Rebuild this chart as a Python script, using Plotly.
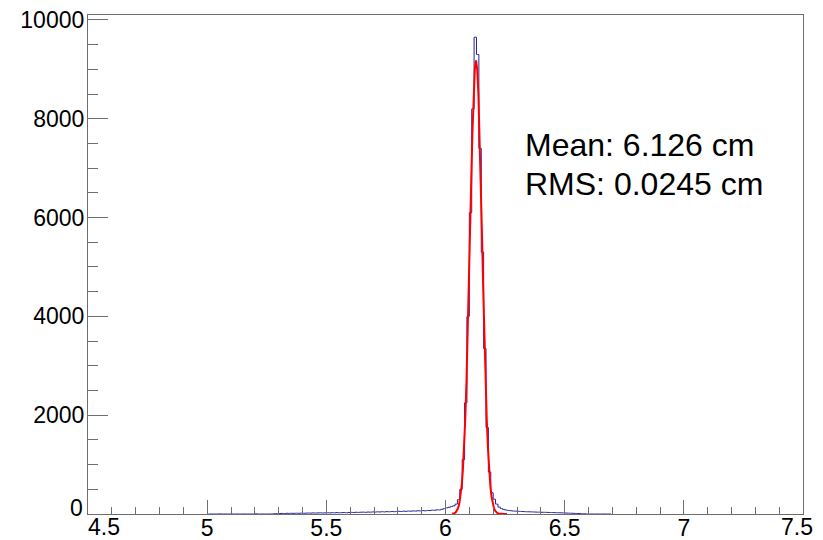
import plotly.graph_objects as go

# ---- data ----
bin_width = 0.01
bin_start = 5.005  # centre of first bin
hist_counts = [
    # 5.00 - 5.29
    0, 0, 0, 0, 0, 2, 0, 0, 0, 0,
    0, 0, 0, 0, 0, 0, 0, 0, 0, 0,
    3, 0, 0, 0, 0, 0, 0, 2, 5, 8,
    # 5.30 - 5.59
    10, 12, 9, 14, 12, 15, 13, 16, 14, 18,
    15, 17, 20, 18, 22, 19, 21, 24, 20, 23,
    25, 22, 26, 24, 28, 25, 27, 30, 26, 31,
    # 5.60 - 5.89
    33, 30, 35, 32, 36, 38, 34, 40, 37, 42,
    39, 44, 41, 46, 43, 48, 45, 50, 47, 52,
    55, 50, 58, 54, 60, 57, 63, 59, 66, 62,
    # 5.90 - 5.99
    68, 65, 72, 70, 78, 75, 85, 82, 95, 108,
    # 6.00 - 6.09
    125, 135, 150, 165, 200, 290, 500, 1100, 2250, 4000,
    # 6.10 - 6.19
    6100, 8200, 9650, 9300, 7400, 5300, 3350, 1750, 850, 430,
    # 6.20 - 6.29
    300, 200, 140, 110, 90, 80, 72, 66, 60, 58,
    # 6.30 - 6.39
    55, 52, 50, 47, 45, 44, 42, 40, 38, 37,
    # 6.40 - 6.49
    35, 34, 33, 31, 30, 28, 27, 25, 24, 22,
    # 6.50 - 6.59
    20, 18, 16, 14, 12, 10, 8, 5, 3, 0,
    # 6.60 - 6.69
    0, 0, 0, 0, 0, 0, 0, 0, 0, 0,
]
hist_x = [round(bin_start + i * bin_width, 3) for i in range(len(hist_counts))]

fit_x = [
    6.028, 6.033, 6.038, 6.043, 6.048, 6.053, 6.058, 6.063, 6.068, 6.073,
    6.078, 6.083, 6.088, 6.093, 6.098, 6.103, 6.108, 6.113, 6.118, 6.123,
    6.128, 6.133, 6.138, 6.143, 6.148, 6.153, 6.158, 6.163, 6.168, 6.173,
    6.178, 6.183, 6.188, 6.193, 6.198, 6.203, 6.208, 6.213, 6.218, 6.223,
    6.228, 6.233, 6.238, 6.243, 6.248, 6.253, 6.258,
]
fit_y = [
    4, 9, 18, 36, 67, 121, 212, 356, 577, 897,
    1343, 1934, 2683, 3579, 4596, 5677, 6749, 7721, 8500, 9006,
    9180, 9006, 8500, 7721, 6749, 5677, 4596, 3579, 2683, 1934,
    1343, 897, 577, 356, 212, 121, 67, 36, 18, 9,
    4, 2, 1, 0, 0, 0, 0,
]

x_ticks = [4.5, 5, 5.5, 6, 6.5, 7, 7.5]
x_tick_text = ["", "5", "5.5", "6", "6.5", "7", ""]
y_ticks = [0, 2000, 4000, 6000, 8000, 10000]
y_tick_text = ["", "2000", "4000", "6000", "8000", "10000"]
stat_lines = ["Mean: 6.126 cm", "RMS: 0.0245 cm"]

FONT = "Liberation Sans, Arial, Helvetica, sans-serif"

fig = go.Figure()
fig.add_trace(go.Scatter(
    x=hist_x, y=hist_counts, mode="lines",
    line=dict(color="#23239a", width=1, shape="hvh"),
    hoverinfo="skip", showlegend=False,
))
fig.add_trace(go.Scatter(
    x=fit_x, y=fit_y, mode="lines",
    line=dict(color="#ff0000", width=2),
    hoverinfo="skip", showlegend=False,
))

axis_common = dict(
    showgrid=False, zeroline=False, showline=True, mirror=True,
    linecolor="#6e6e6e", linewidth=1.2, ticks="inside",
    tickcolor="#6e6e6e", tickwidth=1, automargin=False,
    ticklabeloverflow="allow",
    tickfont=dict(family=FONT, size=23, color="black"),
)
fig.update_xaxes(
    range=[4.5, 7.5], tickmode="array", tickvals=x_ticks, ticktext=x_tick_text,
    ticklen=14, ticklabelstandoff=-7,
    minor=dict(ticks="inside", ticklen=7, dtick=0.1, tick0=4.5,
               tickcolor="#6e6e6e", showgrid=False),
    **axis_common,
)
fig.update_yaxes(
    range=[0, 10100], tickmode="array", tickvals=y_ticks, ticktext=y_tick_text,
    ticklen=20, ticklabelstandoff=-2,
    minor=dict(ticks="inside", ticklen=10, dtick=500, tick0=0,
               tickcolor="#6e6e6e", showgrid=False),
    **axis_common,
)

# edge labels shifted like the original
edge_font = dict(family=FONT, size=23, color="black")
fig.add_annotation(x=4.5, y=0, xref="x", yref="y", text="4.5", showarrow=False,
                   xanchor="left", yanchor="top", yshift=2, xshift=-2, font=edge_font)
fig.add_annotation(x=7.5, y=0, xref="x", yref="y", text="7.5", showarrow=False,
                   xanchor="right", yanchor="top", yshift=2, xshift=12, font=edge_font)
fig.add_annotation(x=0, y=0, xref="paper", yref="y", text="0", showarrow=False,
                   xanchor="right", yanchor="middle", xshift=-3, yshift=6, font=edge_font)

fig.add_annotation(x=0.608, y=0.739, xref="paper", yref="paper", text=stat_lines[0],
                   showarrow=False, xanchor="left", yanchor="middle",
                   font=dict(family=FONT, size=32, color="black"))
fig.add_annotation(x=0.608, y=0.661, xref="paper", yref="paper", text=stat_lines[1],
                   showarrow=False, xanchor="left", yanchor="middle",
                   font=dict(family=FONT, size=32, color="black"))

# the page adds an ~8px offset; compensate in size/margins
fig.update_layout(
    width=815, height=532,
    margin=dict(l=80, r=20, t=7, b=26),
    paper_bgcolor="white", plot_bgcolor="white",
    font=dict(family=FONT),
)

fig.write_html("out.html")
